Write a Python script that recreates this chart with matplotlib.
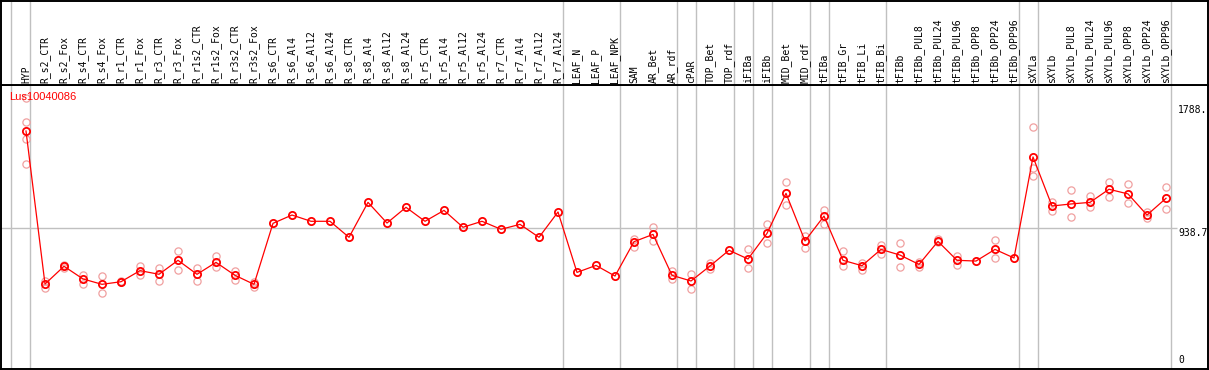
"""
Expression profile for Lus10040086 across tissues / treatments.

Run:
    python plot.py

Output:
    out.png
"""

import matplotlib
matplotlib.use("Agg")
import matplotlib.pyplot as plt


GENE = "Lus10040086"

LABELS = [
    "HYP",
    "R_s2_CTR", "R_s2_Fox", "R_s4_CTR", "R_s4_Fox", "R_r1_CTR", "R_r1_Fox",
    "R_r3_CTR", "R_r3_Fox", "R_r1s2_CTR", "R_r1s2_Fox", "R_r3s2_CTR", "R_r3s2_Fox",
    "R_s6_CTR", "R_s6_Al4", "R_s6_Al12", "R_s6_Al24",
    "R_s8_CTR", "R_s8_Al4", "R_s8_Al12", "R_s8_Al24",
    "R_r5_CTR", "R_r5_Al4", "R_r5_Al12", "R_r5_Al24",
    "R_r7_CTR", "R_r7_Al4", "R_r7_Al12", "R_r7_Al24",
    "LEAF_N", "LEAF_P", "LEAF_NPK",
    "SAM", "AR_Bet", "AR_rdf", "cPAR", "TOP_Bet", "TOP_rdf",
    "iFIBa", "iFIBb", "MID_Bet", "MID_rdf",
    "tFIBa", "tFIB_Gr", "tFIB_Li", "tFIB_Bi",
    "tFIBb", "tFIBb_PUL8", "tFIBb_PUL24", "tFIBb_PUL96",
    "tFIBb_OPP8", "tFIBb_OPP24", "tFIBb_OPP96",
    "sXYLa", "sXYLb", "sXYLb_PUL8", "sXYLb_PUL24", "sXYLb_PUL96",
    "sXYLb_OPP8", "sXYLb_OPP24", "sXYLb_OPP96",
]

# mean expression per sample
MEANS = [
    1607,
    556, 678, 591, 554, 572, 648, 623, 719, 623, 705, 616, 554,
    973, 1030, 987, 987,
    877, 1117, 975, 1083,
    987, 1062, 946, 987,
    932, 966, 877, 1051,
    636, 684, 611,
    847, 897, 616, 577, 680, 788,
    728, 904, 1179, 852,
    1023, 719, 682, 794,
    755, 691, 849, 719, 714, 794, 735,
    1429, 1092, 1106, 1117, 1207, 1175, 1030, 1145,
]

# individual replicates (empty where none shown)
REPS = [
    [1831, 1671, 1552, 1380],
    [579, 531], [687, 664], [618, 556], [611, 492], [579, 568], [680, 616],
    [666, 579], [783, 650], [666, 579], [746, 671], [643, 584], [572, 533],
    [], [], [], [],
    [], [], [], [],
    [], [], [], [],
    [], [], [], [],
    [], [], [],
    [865, 808], [946, 854], [648, 591], [625, 520], [703, 659], [],
    [797, 664], [966, 836], [1255, 1099], [888, 806],
    [1062, 971], [783, 682], [703, 650], [824, 762],
    [838, 671], [710, 675], [865, 843], [751, 687], [], [859, 733], [],
    [1632, 1351, 1300], [1122, 1058], [1200, 1014], [1163, 1083],
    [1255, 1152], [1243, 1113], [1051, 1012], [1220, 1069],
]

# last sample index of each group (vertical separators drawn after them)
GROUP_ENDS = [-1, 0, 28, 31, 34, 35, 37, 38, 39, 41, 42, 45, 52, 53, 60]

Y_TICKS = [1788, 938.7, 0]
Y_TICK_LABELS = ["1788.", "938.7", "0"]

GRID = "#c0c0c0"
REP_COLOR = "#f0a0a0"
MONO = "DejaVu Sans Mono"

W, H = 1209, 370
HEADER_PX = 85
X0_PX, DX_PX = 26, 19          # pixel centre of first column, column spacing


def px_to_idx(px: float) -> float:
    return (px - X0_PX) / DX_PX


def main() -> None:
    fig = plt.figure(figsize=(W / 100, H / 100), dpi=100)

    left = 0.5 / W
    width = 1207.5 / W
    ax = fig.add_axes([left, 1 / H, width, (H - 1 - HEADER_PX) / H])
    hd = fig.add_axes([left, (H - HEADER_PX) / H, width, (HEADER_PX - 0.5) / H])

    xlim = (px_to_idx(0.5), px_to_idx(1208))
    for a in (ax, hd):
        a.set_xlim(*xlim)
        a.set_xticks([])
        a.set_yticks([])
        for s in a.spines.values():
            s.set_color("black")
            s.set_linewidth(1.4)
        for g in GROUP_ENDS:
            a.axvline(g + 4.5 / DX_PX, color=GRID, lw=1.0, zorder=0)

    # y scale: 938.7 sits at pixel 228, 0 at pixel 365
    scale = 0.1456
    ax.set_ylim((365 - 369) / scale, (365 - HEADER_PX) / scale)
    hd.set_ylim(0, HEADER_PX)

    # header labels
    for i, lab in enumerate(LABELS):
        hd.text(i, 2, lab, rotation=90, ha="center", va="bottom",
                family=MONO, fontsize=7, color="black")

    # horizontal grid at mid value
    ax.hlines(Y_TICKS[1], xlim[0], px_to_idx(1177), color=GRID, lw=1.0, zorder=0)

    # replicates
    rx, ry = [], []
    for i, vals in enumerate(REPS):
        for v in vals:
            rx.append(i)
            ry.append(v)
    ax.plot(rx, ry, ls="none", marker="o", ms=5.2, mfc="none",
            mec=REP_COLOR, mew=0.9, zorder=2)

    # means
    xs = list(range(len(MEANS)))
    ax.plot(xs, MEANS, color="red", lw=0.9, zorder=3)
    ax.plot(xs, MEANS, ls="none", marker="o", ms=5.2, mfc="none",
            mec="red", mew=1.3, zorder=4)

    # value labels on the right
    lx = px_to_idx(1178)
    for v, t in zip(Y_TICKS, Y_TICK_LABELS):
        ax.text(lx, v, t, ha="left", va="bottom" if v == 0 else "top",
                family=MONO, fontsize=7, color="black")

    ax.text(px_to_idx(9), (365 - 97) / scale, GENE, ha="left", va="center",
            family="Liberation Sans", fontsize=8, color="red", zorder=5)

    fig.savefig("out.png", dpi=100, facecolor="white")
    plt.close(fig)


if __name__ == "__main__":
    main()
